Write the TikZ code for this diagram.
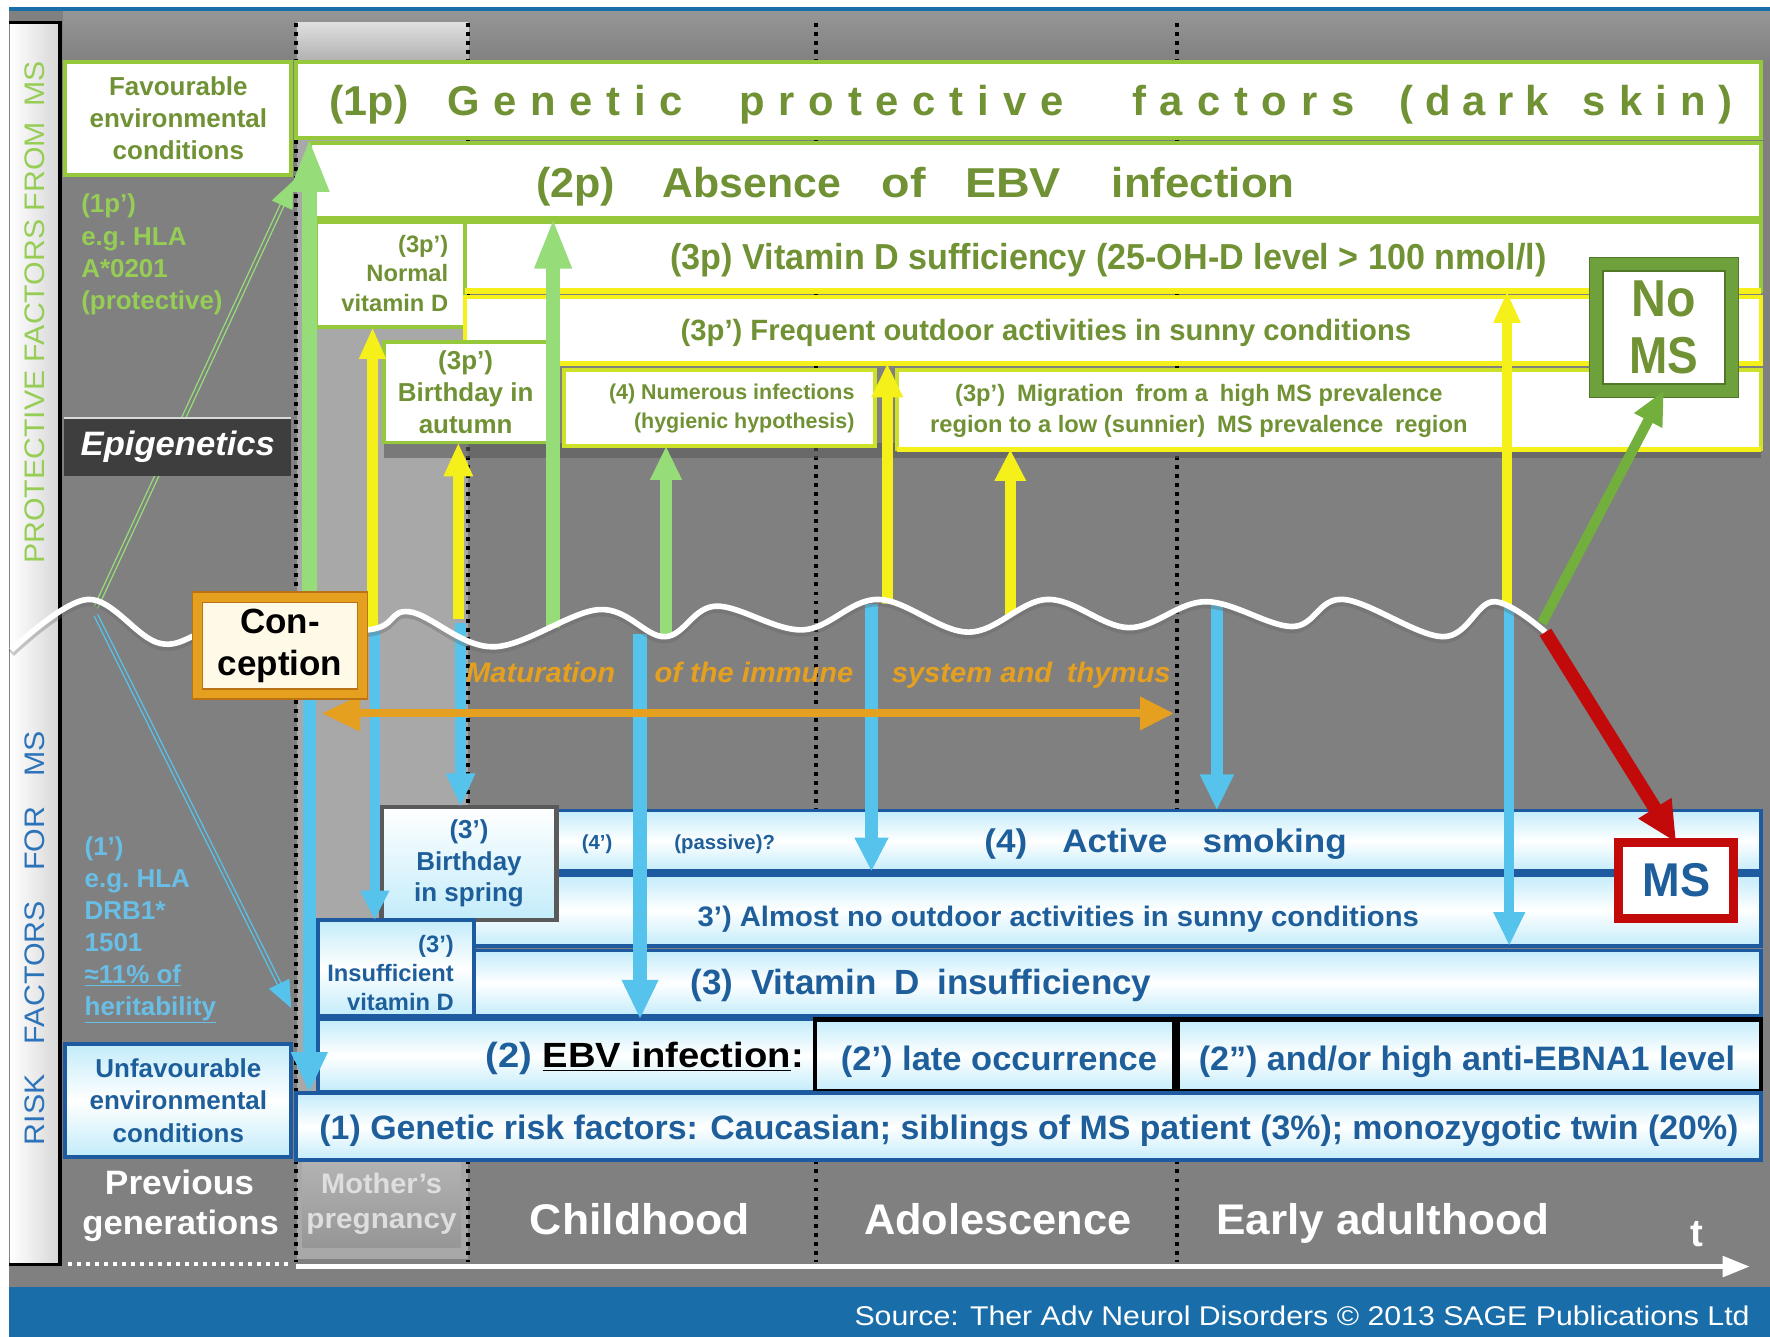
\documentclass[tikz,border=0pt]{standalone}
\usepackage{fontspec}
\setmainfont{Liberation Sans}
\usepackage{graphicx}
\usetikzlibrary{arrows.meta,calc}

\definecolor{bggray}{RGB}{128,128,128}
\definecolor{topgray}{RGB}{150,150,150}
\definecolor{colgray}{RGB}{168,168,168}
\definecolor{bargray}{RGB}{215,215,215}
\definecolor{oltext}{RGB}{112,146,52}
\definecolor{pgreen}{RGB}{150,200,60}
\definecolor{ygreen}{RGB}{205,225,40}
\definecolor{lgtext}{RGB}{150,205,85}
\definecolor{yel}{RGB}{245,240,25}
\definecolor{garrow}{RGB}{150,220,120}
\definecolor{ngreen}{RGB}{115,175,60}
\definecolor{barrow}{RGB}{85,195,235}
\definecolor{dblue}{RGB}{30,90,160}
\definecolor{btext}{RGB}{30,95,155}
\definecolor{ctext}{RGB}{105,190,230}
\definecolor{risklab}{RGB}{45,115,185}
\definecolor{cyanfill}{RGB}{195,236,250}
\definecolor{orng}{RGB}{228,160,30}
\definecolor{dorng}{RGB}{185,115,20}
\definecolor{msred}{RGB}{195,10,10}
\definecolor{footblue}{RGB}{25,110,170}
\definecolor{epigray}{RGB}{62,62,62}
\definecolor{cream}{RGB}{255,250,232}
\definecolor{bsgray}{RGB}{90,90,90}
\definecolor{momtext}{RGB}{222,222,222}
\definecolor{momtop}{RGB}{178,178,178}
\definecolor{mombot}{RGB}{150,150,150}
\definecolor{nomsgreen}{RGB}{110,160,60}
\definecolor{nomsdark}{RGB}{80,120,40}

% squeeze or stretch a line of text horizontally to a given width
\newcommand{\fw}[2]{\resizebox{#1pt}{\height}{#2}}
% letters spread evenly over a given width
\newcommand{\spr}[2]{\hbox to #1pt{#2}}
\newcommand{\fsz}[2]{\fontsize{#1}{#2}\selectfont}
% rectangle node from corner coordinates: style, name, x1, y1, x2, y2
\newcommand{\bx}[6]{\node[#1,minimum width={(#5-#3)*1pt},minimum height={(#6-#4)*1pt}] (#2) at ({(#3+#5)/2},{(#4+#6)/2}) {};}

\begin{document}
\begin{tikzpicture}[x=1pt,y=-1pt,
  box/.style={rectangle,inner sep=0pt,outer sep=0pt},
  pbox/.style={box,fill=white,draw=pgreen,line width=3.5pt},
  ybox/.style={box,fill=white,draw=yel,line width=4pt},
  rbox/.style={box,top color=cyanfill,bottom color=cyanfill,middle color=white,draw=dblue,line width=3.5pt},
  kbox/.style={rbox,draw=black,line width=4pt},
  txt/.style={inner sep=0pt,outer sep=0pt,font=\bfseries},
  dotline/.style={black,line width=3.5pt,dash pattern=on 3.5pt off 4.5pt},
  thinline/.style={draw=#1,line width=1.2pt,double=bggray,double distance=2.2pt},
  garr/.style args={#1/#2/#3}{draw=garrow,line width=#1pt,-{Triangle[width=#2pt,length=#3pt]}},
  yarr/.style args={#1/#2/#3}{draw=yel,line width=#1pt,-{Triangle[width=#2pt,length=#3pt]}},
  barr/.style args={#1/#2/#3}{draw=barrow,line width=#1pt,-{Triangle[width=#2pt,length=#3pt]}},
]
\useasboundingbox (0,0) rectangle (1568,1184);

% ---------- background ----------
\fill[white] (0,0) rectangle (1568,1184);
\fill[bggray] (8,8) rectangle (1568,1140);
\shade[top color=topgray,bottom color=bggray] (56,10) rectangle (1568,55);
\fill[footblue] (8,6) rectangle (1568,10);
\fill[footblue] (8,1140) rectangle (1568,1184);

% mother's pregnancy column
\fill[colgray] (263,20) rectangle (415,1115);
\shade[top color=gray!25,bottom color=colgray] (263,20) rectangle (415,60);

% side bar with rotated labels
\shade[left color=white,right color=bargray] (9,20) rectangle (52,1120);
\draw[black,line width=3pt] (8,20) -- (53,20) -- (53,1120) -- (8,1120);
\node[txt,font=\fsz{25}{25},text=lgtext,rotate=90] (protlab) at (31,277) {\fw{445}{PROTECTIVE FACTORS FROM\enspace MS}};
\node[txt,font=\fsz{25}{25},text=risklab,rotate=90] (risklbl) at (31,831) {\fw{367}{RISK\quad FACTORS\quad FOR\quad MS}};

% dotted period boundaries
\foreach \xx in {262,415,723,1043} \draw[dotline] (\xx,20) -- (\xx,1118);
\draw[white,line width=3.5pt,dash pattern=on 3.5pt off 4.5pt] (60,1120) -- (258,1120);

% ---------- previous generations column ----------
\coordinate (thg0) at (85,538);
\coordinate (thg1) at (260,160);
\draw[thinline=garrow,shorten >=20pt] (thg0) -- (thg1);
\draw[garrow,line width=0.5pt,-{Triangle[width=20pt,length=24pt]}] ($(thg1)!24pt!(thg0)$) -- (thg1);
\coordinate (thb0) at (85,545);
\coordinate (thb1) at (258,893);
\draw[thinline=barrow,shorten >=20pt] (thb0) -- (thb1);
\draw[barrow,line width=0.5pt,-{Triangle[width=20pt,length=24pt]}] ($(thb1)!24pt!(thb0)$) -- (thb1);

\bx{box,fill=epigray}{epibox}{57}{370}{258}{422}
\draw[gray!30,line width=2pt] (epibox.north west) -- (epibox.north east);
\node[txt,font=\bfseries\itshape\fsz{30}{30},text=white] (epitxt) at (epibox.center) {\fw{172}{Epigenetics}};

\bx{pbox}{fav}{58}{55}{258}{155}
\node[txt,font=\bfseries\fsz{23}{28.5},text=oltext,align=center] (favtxt) at (fav.center) {Favourable\\environmental\\conditions};
\node[txt,font=\bfseries\fsz{23}{28.5},text=lgtext,align=left,anchor=north west] (hlap) at (72,172) {(1p')\\e.g.\ HLA\\A*0201\\(protective)};

\node[txt,font=\bfseries\fsz{23}{28.4},text=ctext,align=left,anchor=north west] (hlar) at (75,741) {(1')\\e.g.\ HLA\\DRB1*\\1501\\\underline{≈11\% of}\\\underline{heritability}};
\bx{rbox}{unfav}{58}{925}{258}{1025}
\node[txt,font=\bfseries\fsz{23}{28.5},text=btext,align=center] (unfavtxt) at (unfav.center) {Unfavourable\\environmental\\conditions};

% ---------- protective factors ----------
\fill[bsgray,opacity=.6] (340,392) rectangle (1560,406);
\bx{pbox}{p1}{262}{55}{1560}{122}
\bx{pbox}{p2}{275}{127}{1560}{193}
\bx{pbox}{nvd}{280}{197}{412}{290}
\bx{pbox}{p3}{412}{197}{1560}{258}
\draw[yel,line width=5pt] (p3.south west) -- (p3.south east);
\bx{ybox}{freq}{412}{263}{1560}{322}
\bx{box,fill=white,draw=ygreen,line width=3.5pt}{numer}{500}{328}{775}{395}
\bx{box,fill=white,draw=ygreen,line width=3.5pt}{migr}{795}{328}{1560}{398}
\draw[yel,line width=4pt] (migr.south west) -- (migr.south east);
\bx{pbox}{bau}{340}{303}{485}{392}

\begin{scope}[every node/.style={txt,font=\bfseries\fsz{37}{37},text=oltext,anchor=base west}]
\node (p1a) at (292,102) {\fw{70}{(1p)}};
\node (p1b) at (396,102) {\spr{209}{G\hfil e\hfil n\hfil e\hfil t\hfil i\hfil c}};
\node (p1c) at (655,102) {\spr{287}{p\hfil r\hfil o\hfil t\hfil e\hfil c\hfil t\hfil i\hfil v\hfil e}};
\node (p1d) at (1003,102) {\spr{197}{f\hfil a\hfil c\hfil t\hfil o\hfil r\hfil s}};
\node (p1e) at (1240,102) {\spr{132}{(\hfil d\hfil a\hfil r\hfil k}};
\node (p1f) at (1402,102) {\spr{133}{s\hfil k\hfil i\hfil n\hfil )}};
\node (p2a) at (475,175) {\fw{70}{(2p)}};
\node (p2b) at (587,175) {\fw{158}{Absence}};
\node (p2c) at (781,175) {\fw{39}{of}};
\node (p2d) at (855,175) {\fw{85}{EBV}};
\node (p2e) at (985,175) {\fw{162}{infection}};
\end{scope}
\node[txt,font=\bfseries\fsz{32}{32},text=oltext,anchor=base west] (p3txt) at (594,238.5) {\fw{776}{(3p) Vitamin D sufficiency (25-OH-D level > 100 nmol/l)}};
\node[txt,font=\bfseries\fsz{26}{26},text=oltext,anchor=base west] (freqtxt) at (603,302) {\fw{647}{(3p') Frequent outdoor activities in sunny conditions}};
\node[txt,font=\bfseries\fsz{21}{26},text=oltext,align=right,anchor=east] (nvdtxt) at (397,242) {(3p')\\Normal\\vitamin D};
\node[txt,font=\bfseries\fsz{23}{28.5},text=oltext,align=center] (bautxt) at (bau.center) {(3p')\\Birthday in\\autumn};
\node[txt,font=\bfseries\fsz{19}{26},text=oltext,align=right,anchor=east] (numertxt) at (757,362) {(4) Numerous infections\\(hygienic hypothesis)};
\node[txt,font=\bfseries\fsz{21}{28},text=oltext,align=center] (migrtxt) at (1062,364) {(3p')\enspace Migration\enspace from a\enspace high MS prevalence\\region to a low (sunnier)\enspace MS prevalence\enspace region};

% ---------- risk factors ----------
\bx{rbox}{r4}{490}{718}{1560}{772}
\bx{rbox}{r3b}{420}{775}{1560}{838}
\bx{rbox}{r3}{420}{842}{1560}{900}
\bx{rbox}{r2}{282}{903}{1560}{967}
\bx{kbox}{late}{722}{903}{1040}{967}
\bx{kbox}{ebna}{1043}{903}{1560}{967}
\bx{rbox}{r1}{262}{968}{1560}{1028}
\bx{box,top color=white,bottom color=cyanfill,draw=bsgray,line width=4pt}{bsp}{338}{715}{493}{815}
\bx{rbox}{insuf}{282}{815}{420}{900}

\node[txt,font=\bfseries\fsz{18}{18},text=btext] (r4a) at (529,748) {(4')};
\node[txt,font=\bfseries\fsz{18}{18},text=btext] (r4b) at (642,748) {(passive)?};
\node[txt,font=\bfseries\fsz{29}{29},text=btext,anchor=base west] (r4txt) at (872,755) {\fw{321}{(4)\quad Active\quad smoking}};
\node[txt,font=\bfseries\fsz{25}{25},text=btext,anchor=base west] (r3btxt) at (618,821) {\fw{639}{3') Almost no outdoor activities in sunny conditions}};
\node[txt,font=\bfseries\fsz{31}{31},text=btext,anchor=base west] (r3txt) at (612,881) {\fw{408}{(3)\enspace Vitamin\enspace D\enspace insufficiency}};
\node[txt,font=\bfseries\fsz{31}{31},text=btext,anchor=base west] (r2txt) at (430,946) {\fw{282}{(2) {\color{black}\underline{EBV infection}:}}};
\node[txt,font=\bfseries\fsz{30}{30},text=btext,anchor=base west] (latetxt) at (745,948) {\fw{280}{(2') late occurrence}};
\node[txt,font=\bfseries\fsz{30}{30},text=btext,anchor=base west] (ebnatxt) at (1062,948) {\fw{475}{(2”) and/or high anti-EBNA1 level}};
\node[txt,font=\bfseries\fsz{30}{30},text=btext,anchor=base west] (r1txt) at (283,1009) {\fw{1257}{(1) Genetic risk factors: Caucasian; siblings of MS patient (3\%); monozygotic twin (20\%)}};
\node[txt,font=\bfseries\fsz{23}{28},text=btext,align=center] (bsptxt) at (bsp.center) {(3')\\Birthday\\in spring};
\node[txt,font=\bfseries\fsz{21}{25.5},text=btext,align=right,anchor=east] (insuftxt) at (402,862) {(3')\\Insufficient\\vitamin D};

% ---------- outcome boxes ----------
\node[box,draw=nomsgreen,line width=12pt,fill=white,minimum width=120pt,minimum height=112pt,align=center,font=\bfseries\fsz{46}{50},text=oltext] (noms) at (1474,290) {\fw{57}{No}\\\fw{61}{MS}};
\draw[nomsdark,line width=1.5pt] ([shift={(6,-6)}]noms.south west) rectangle ([shift={(-6,6)}]noms.north east);
\draw[nomsdark,line width=1.5pt] ([shift={(-6,6)}]noms.south west) rectangle ([shift={(6,-6)}]noms.north east);
\node[box,draw=msred,line width=8pt,fill=white,minimum width=102pt,minimum height=67pt,font=\bfseries\fsz{42}{42},text=btext] (ms) at (1485,780) {\fw{60}{MS}};

% ---------- vertical influence arrows ----------
\coordinate (wg1) at (274,560);
\coordinate (wg2) at (490,556);
\coordinate (wg3) at (590,562);
\draw[garr=13/32/48] (wg1) -- (wg1 |- p1.south);
\draw[garr=12/30/45] (wg2) -- (wg2 |- p2.south);
\draw[garr=11/26/30] (wg3) -- (wg3 |- numer.south);

\coordinate (wy1) at (330,556);
\coordinate (wy2) at (406,548);
\coordinate (wy3) at (786,535);
\coordinate (wy4) at (895,545);
\coordinate (wy5) at (1335,537);
\draw[yarr=9/22/28] (wy1) -- (wy1 |- nvd.south);
\draw[yarr=10/24/30] (wy2) -- (wy2 |- bau.south);
\draw[yarr=10/26/30] (wy3) -- (wy3 |- freq.south);
\draw[yarr=10/26/28] (wy4) -- (wy4 |- migr.south);
\draw[yarr=8/22/28] (wy5) -- (wy5 |- p3.south);

\coordinate (wb1) at (274,600);
\coordinate (wb2) at (332,556);
\coordinate (wb3) at (408,552);
\coordinate (wb4) at (567,562);
\coordinate (wb5) at (772,535);
\coordinate (wb6) at (1078,535);
\coordinate (wb7) at (1337,537);
\draw[barr=12/30/36] (wb1) -- (wb1 |- r1.north);
\draw[barr=9/24/26] (wb2) -- (wb2 |- bsp.south);
\draw[barr=10/24/30] (wb3) -- (wb3 |- bsp.north);
\draw[barr=12/30/35] (wb4) -- (wb4 |- r2.north);
\draw[barr=12/28/30] (wb5) -- (wb5 |- r4.south);
\draw[barr=11/28/32] (wb6) -- (wb6 |- r4.north);
\draw[barr=9/26/30] (wb7) -- (wb7 |- r3b.south);

% ---------- maturation of the immune system ----------
\coordinate (mat0) at (285,632);
\coordinate (mat1) at (1040,632);
\draw[orng,line width=7pt,{Triangle[width=30pt,length=34pt]}-{Triangle[width=28pt,length=30pt]}] (mat0) -- (mat1);
\begin{scope}[every node/.style={txt,font=\bfseries\itshape\fsz{25}{25},text=orng,anchor=base west}]
\node (mata) at (413,605) {\fw{132}{Maturation}};
\node (matb) at (580,605) {\fw{176}{of the immune}};
\node (matc) at (790,605) {\fw{247}{system and\enspace thymus}};
\end{scope}

% ---------- life line ----------
\draw[black!60,line width=7pt,opacity=.35,yshift=-2.5pt] plot[smooth,tension=.6] coordinates {(10,576) (78,531) (142,570) (200,556) (325,558) (363,542) (437,573) (531,540) (589,564) (634,537) (711,558) (778,531) (858,560) (928,531) (1000,556) (1068,533) (1145,555) (1190,531) (1278,564) (1323,533) (1369,560)};
\draw[white,line width=5pt] plot[smooth,tension=.6] coordinates {(10,576) (78,531) (142,570) (200,556) (325,558) (363,542) (437,573) (531,540) (589,564) (634,537) (711,558) (778,531) (858,560) (928,531) (1000,556) (1068,533) (1145,555) (1190,531) (1278,564) (1323,533) (1369,560)};

\coordinate (wendg) at (1366,552);
\coordinate (wendr) at (1369,560);
\draw[ngreen,line width=9pt,-{Triangle[width=26pt,length=30pt]}] (wendg) -- (noms.south);
\draw[msred,line width=12pt,-{Triangle[width=32pt,length=36pt]}] (wendr) -- (ms.north);

\node[box,draw=orng,line width=9pt,fill=cream,minimum width=146pt,minimum height=86pt,align=center,font=\bfseries\fsz{31}{37}] (concep) at (248,572) {Con-\\ception};
\draw[dorng,line width=1.5pt] ([shift={(-4.5,4.5)}]concep.south west) rectangle ([shift={(4.5,-4.5)}]concep.north east);
\draw[dorng,line width=1.2pt] ([shift={(4.5,-4.5)}]concep.south west) rectangle ([shift={(-4.5,4.5)}]concep.north east);

% ---------- time axis ----------
\bx{box,top color=momtop,bottom color=mombot}{momlab}{268}{1030}{408}{1105}
\node[txt,font=\bfseries\fsz{25}{25},text=momtext,anchor=base] (mom1) at (338,1057) {\fw{107}{Mother's}};
\node[txt,font=\bfseries\fsz{25}{25},text=momtext,anchor=base] (mom2) at (338,1088) {\fw{133}{pregnancy}};
\node[txt,font=\bfseries\fsz{30}{30},text=white,anchor=base] (prev1) at (159,1058) {\fw{132}{Previous}};
\node[txt,font=\bfseries\fsz{30}{30},text=white,anchor=base] (prev2) at (160,1094) {\fw{174}{generations}};
\node[txt,font=\bfseries\fsz{38}{38},text=white,anchor=base] (child) at (567,1094) {\fw{195}{Childhood}};
\node[txt,font=\bfseries\fsz{38}{38},text=white,anchor=base] (adol) at (884,1094) {\fw{237}{Adolescence}};
\node[txt,font=\bfseries\fsz{38}{38},text=white,anchor=base] (adult) at (1225,1094) {\fw{295}{Early adulthood}};
\node[txt,font=\bfseries\fsz{34}{34},text=white,anchor=base] (tlab) at (1503,1104) {t};
\coordinate (t0) at (262,1122);
\coordinate (t1) at (1550,1122);
\draw[white,line width=4pt,-{Triangle[width=18pt,length=24pt]}] (t0) -- (t1);

\node[txt,font=\fsz{24}{24},text=white,anchor=base east] (src) at (1550,1174) {\fw{793}{Source: Ther Adv Neurol Disorders © 2013 SAGE Publications Ltd}};
\end{tikzpicture}
\end{document}
